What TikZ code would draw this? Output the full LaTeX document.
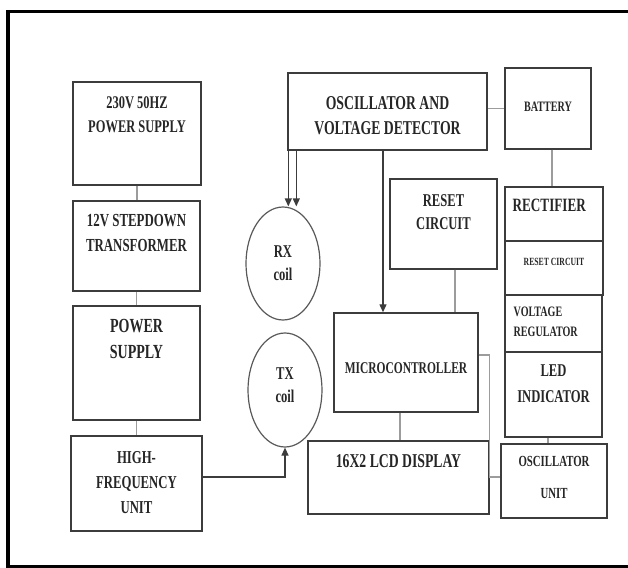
\documentclass[tikz,border=0pt]{standalone}
\usepackage{fontspec}
\newfontfamily\cond[FakeStretch=0.7]{Liberation Serif}
\usetikzlibrary{arrows.meta,positioning,shapes.geometric}
\definecolor{boxline}{HTML}{3C3C3C}
\definecolor{linkgrey}{HTML}{9C9C9C}

\begin{document}
\begin{tikzpicture}[x=0.5pt,y=-0.5pt,
    blk/.style={draw=boxline,line width=0.7pt,inner sep=0pt},
    coil/.style={ellipse,draw=boxline!85,line width=0.6pt,inner sep=0pt},
    lbl/.style 2 args={font=\cond\bfseries\fontsize{#1}{#2}\selectfont,align=center,inner sep=0pt,text=black!85},
    link/.style={draw=linkgrey,line width=0.6pt},
    feed/.style={draw=boxline,line width=0.6pt,-{Triangle[length=4pt,width=3.5pt]}}]
    \useasboundingbox (0,0) rectangle (628,568);
    \draw[line width=1.5pt] (640,11) -| (8,566) -- (640,566);

    \node[blk,minimum width=64pt,minimum height=51.5pt] (ps230) at (137,133.5) {};
    \node[blk,minimum width=63.5pt,minimum height=45pt] (trans) at (136.5,246) {};
    \node[blk,minimum width=63.5pt,minimum height=57pt] (psup) at (136.5,363) {};
    \node[blk,minimum width=65.5pt,minimum height=47.5pt] (hfu) at (136.5,483.5) {};
    \node[coil,minimum width=37pt,minimum height=56.5pt] (rxc) at (283,263.5) {};
    \node[coil,minimum width=37pt,minimum height=57pt] (txc) at (285,390) {};
    \node[blk,minimum width=99.5pt,minimum height=38.5pt] (osc) at (387.5,111.5) {};
    \node[blk,minimum width=43pt,minimum height=40.5pt] (batt) at (548,108.5) {};
    \node[blk,minimum width=53.5pt,minimum height=45pt] (rst) at (443.5,224) {};
    \node[blk,minimum width=49pt,minimum height=27pt] (rect) at (554,214) {};
    \node[blk,minimum width=49pt,minimum height=27pt] (rst2) at (554,268) {};
    \node[blk,minimum width=48.5pt,minimum height=28.5pt] (vreg) at (553.5,323.5) {};
    \node[blk,minimum width=48.5pt,minimum height=42.5pt] (led) at (553.5,394.5) {};
    \node[blk,minimum width=72pt,minimum height=49.5pt] (mcu) at (406,362.5) {};
    \node[blk,minimum width=90.5pt,minimum height=36.5pt] (lcd) at (398.5,477.5) {};
    \node[blk,minimum width=53pt,minimum height=37pt] (oscu) at (554,481) {};

    \node[lbl={8.9pt}{12pt},below=7.5pt of ps230.north] (t230) {230V 50HZ\\POWER SUPPLY};
    \node[lbl={9.2pt}{12.5pt},below=7pt of trans.north] (ttrans) {12V STEPDOWN\\TRANSFORMER};
    \node[lbl={10pt}{13pt},below=7pt of psup.north] (tpsup) {POWER\\SUPPLY};
    \node[lbl={9.1pt}{12.5pt},below=8pt of hfu.north] (thfu) {HIGH-\\FREQUENCY\\UNIT};
    \node[lbl={9pt}{11.5pt}] (trxc) at (rxc.center) {RX\\coil};
    \node[lbl={9pt}{11.5pt}] (ttxc) at ([yshift=2.5pt]txc.center) {TX\\coil};
    \node[lbl={9.8pt}{12.5pt},below=12pt of osc.north] (tosc) {OSCILLATOR AND\\VOLTAGE DETECTOR};
    \node[lbl={7.2pt}{9pt}] (tbatt) at ([yshift=0.75pt]batt.center) {BATTERY};
    \node[lbl={9pt}{11.5pt},below=8pt of rst.north] (trst) {RESET\\CIRCUIT};
    \node[lbl={9.4pt}{11pt},anchor=north west,below right=6pt and 4pt of rect.north west] (trect) {RECTIFIER};
    \node[lbl={5.5pt}{7pt}] (trst2) at ([yshift=3pt]rst2.center) {RESET CIRCUIT};
    \node[lbl={7.2pt}{10pt},align=left,below right=6pt and 4.5pt of vreg.north west] (tvreg) {VOLTAGE\\REGULATOR};
    \node[lbl={9pt}{13pt},below=6.5pt of led.north] (tled) {LED\\INDICATOR};
    \node[lbl={8.2pt}{10pt}] (tmcu) at ([yshift=-2.75pt]mcu.center) {MICROCONTROLLER};
    \node[lbl={9.8pt}{12pt},below=7pt of lcd.north] (tlcd) {16X2 LCD DISPLAY};
    \node[lbl={7.7pt}{16pt},below=6.5pt of oscu.north] (toscu) {OSCILLATOR\\UNIT};

    \draw[link] (ps230.south) -- (ps230.south |- trans.north);
    \draw[link] (trans.south) -- (trans.south |- psup.north);
    \draw[link] (psup.south) -- (psup.south |- hfu.north);
    \draw[feed] ([yshift=3.25pt]hfu.east) -| (txc.south);
    \coordinate (rxa) at ([xshift=0.5pt]osc.south west);
    \coordinate (rxb) at ([xshift=4.5pt]osc.south west);
    \draw[feed] (rxa) -- (rxa |- rxc.north);
    \draw[feed] (rxb) -- (rxb |- rxc.north);
    \coordinate (oscm) at ([xshift=-2.25pt]osc.south);
    \draw[feed] (oscm) -- (oscm |- mcu.north);
    \draw[link] (batt.west -| osc.east) -- (batt.west);
    \draw[link] ([xshift=2pt]batt.south) -- ([xshift=2pt]batt.south |- rect.north);
    \coordinate (rstm) at ([xshift=5.75pt]rst.south);
    \draw[link] (rstm) -- (rstm |- mcu.north);
    \coordinate (mcul) at ([xshift=-3pt]mcu.south);
    \draw[link] (mcul) -- (mcul |- lcd.north);
    \draw[link] ([yshift=3.75pt]mcu.east) -| ([yshift=2pt]lcd.east |- oscu.west) -- ([yshift=2pt]oscu.west);
    \draw[link] ([xshift=-2.75pt]led.south) -- ([xshift=-2.75pt]led.south |- oscu.north);
\end{tikzpicture}
\end{document}
